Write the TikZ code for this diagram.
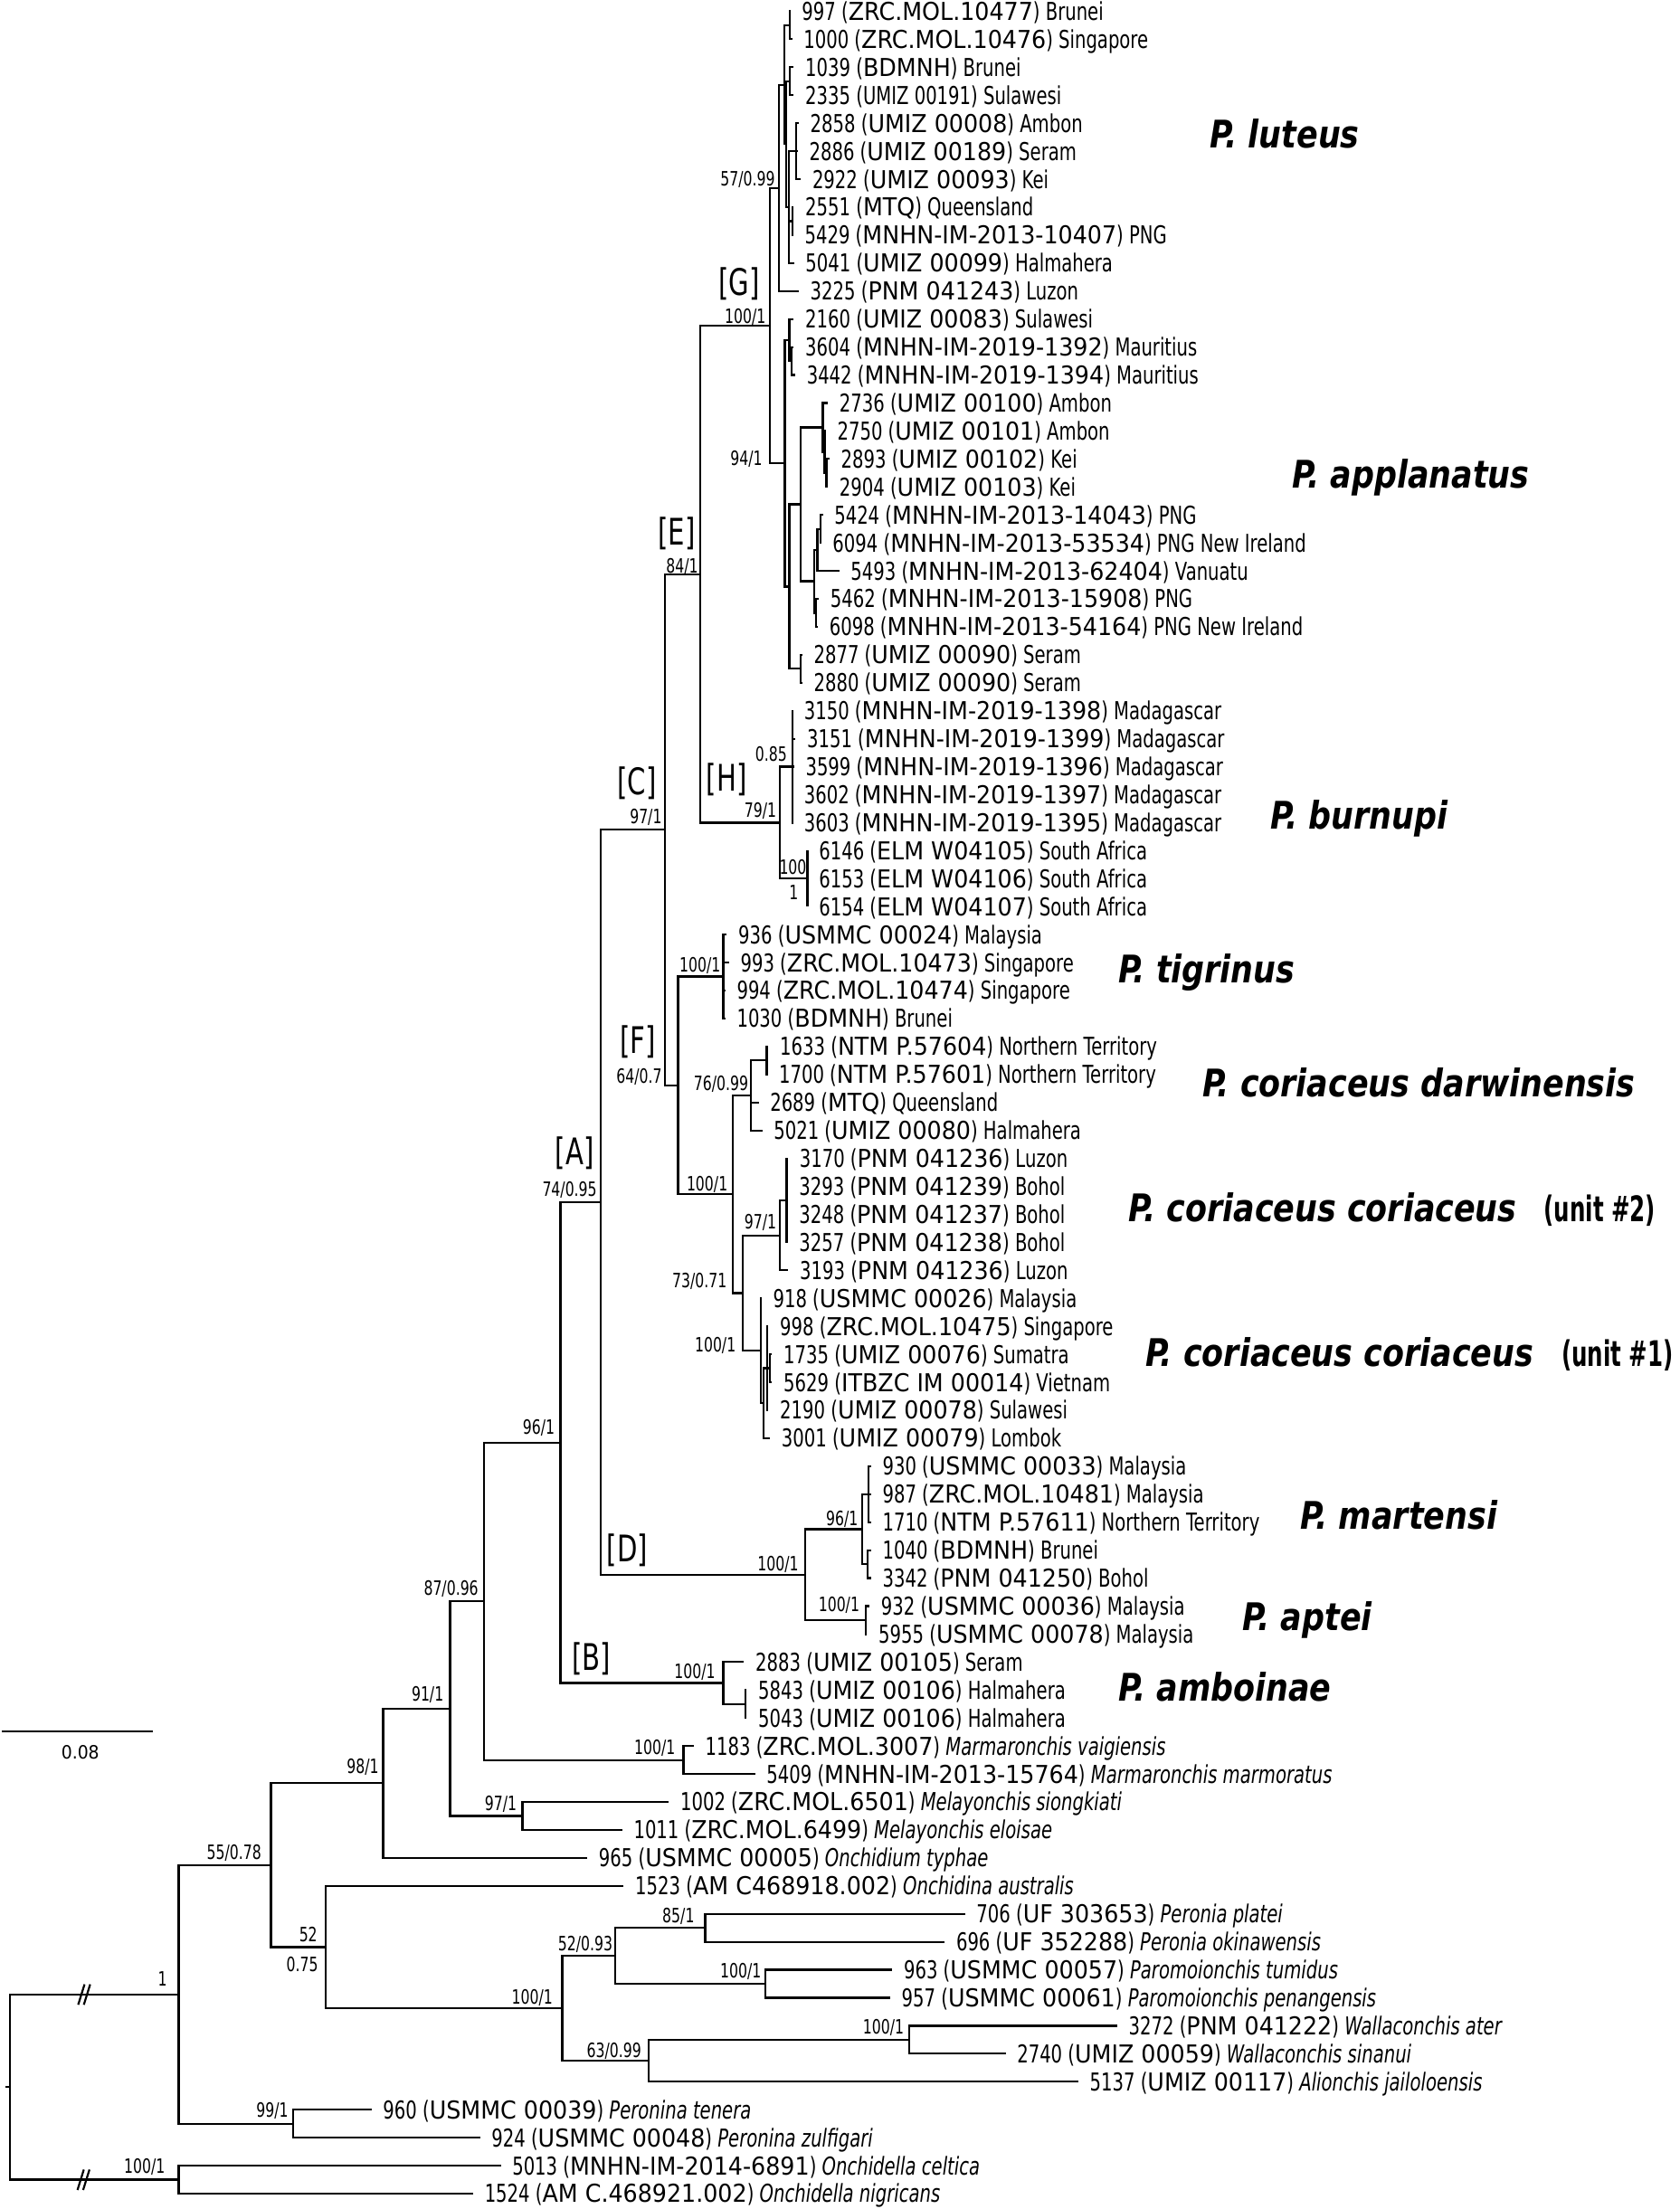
\documentclass[tikz,border=0pt]{standalone}
\usepackage{fontspec}
\newfontfamily\tipf{DejaVu Sans}[FakeStretch=0.72]
\newfontfamily\codef{DejaVu Sans}[FakeStretch=0.93]
\newfontfamily\bigf{DejaVu Sans Bold Oblique}[FakeStretch=0.83]
\newfontfamily\unitf{DejaVu Sans Bold}[FakeStretch=0.63]
\tikzset{
 br/.style={line width=1.4pt},
 tiplab/.style={anchor=base west, inner sep=0pt, xshift=8pt, yshift=-6.4pt, font=\fontsize{17.5}{18}\selectfont},
 sup/.style={anchor=base east, inner sep=0pt, font=\tipf\fontsize{14}{14}\selectfont},
 brk/.style={anchor=base, inner sep=0pt, font=\tipf\fontsize{26}{26}\selectfont},
 spl/.style={anchor=base west, inner sep=0pt, font=\bigf\fontsize{27}{27}\selectfont},
 unitl/.style={anchor=base west, inner sep=0pt, font=\unitf\fontsize{25}{25}\selectfont},
}
\newcommand\tipL[5]{\coordinate (t#1) at (#2,{8+(#1-1)*19.86}); \node[tiplab] (l#1) at (t#1) {\tipf #3 (\codef #4\tipf ) #5};}
\newcommand\tipI[5]{\coordinate (t#1) at (#2,{8+(#1-1)*19.86}); \node[tiplab] (l#1) at (t#1) {\tipf #3 (\codef #4\tipf ) \itshape #5};}
\newcommand\tipC[5]{\coordinate (t#1) at (#2,{8+(#1-1)*19.86}); \node[tiplab] (l#1) at (t#1) {\tipf #3 (#4) #5};}
\begin{document}
\begin{tikzpicture}[x=1pt,y=-1pt]
\path[fill=white] (0,0) rectangle (1192,1568);
\useasboundingbox (0,0) rectangle (1192,1568);
% ---------- tips ----------
\tipL{1}{561}{997}{ZRC.MOL.10477}{Brunei}
\tipL{2}{562.2}{1000}{ZRC.MOL.10476}{Singapore}
\tipL{3}{563.4}{1039}{BDMNH}{Brunei}
\tipC{4}{563.4}{2335}{UMIZ 00191}{Sulawesi}
\tipL{5}{566.9}{2858}{UMIZ 00008}{Ambon}
\tipL{6}{566.2}{2886}{UMIZ 00189}{Seram}
\tipL{7}{568.4}{2922}{UMIZ 00093}{Kei}
\tipL{8}{563.4}{2551}{MTQ}{Queensland}
\tipL{9}{563}{5429}{MNHN-IM-2013-10407}{PNG}
\tipL{10}{563.5}{5041}{UMIZ 00099}{Halmahera}
\tipL{11}{566.9}{3225}{PNM 041243}{Luzon}
\tipL{12}{563.4}{2160}{UMIZ 00083}{Sulawesi}
\tipL{13}{563.4}{3604}{MNHN-IM-2019-1392}{Mauritius}
\tipL{14}{564.4}{3442}{MNHN-IM-2019-1394}{Mauritius}
\tipL{15}{587.6}{2736}{UMIZ 00100}{Ambon}
\tipL{16}{586.1}{2750}{UMIZ 00101}{Ambon}
\tipL{17}{588.7}{2893}{UMIZ 00102}{Kei}
\tipL{18}{587.6}{2904}{UMIZ 00103}{Kei}
\tipL{19}{584}{5424}{MNHN-IM-2013-14043}{PNG}
\tipL{20}{582.8}{6094}{MNHN-IM-2013-53534}{PNG New Ireland}
\tipL{21}{595.6}{5493}{MNHN-IM-2013-62404}{Vanuatu}
\tipL{22}{581.2}{5462}{MNHN-IM-2013-15908}{PNG}
\tipL{23}{580.5}{6098}{MNHN-IM-2013-54164}{PNG New Ireland}
\tipL{24}{569.4}{2877}{UMIZ 00090}{Seram}
\tipL{25}{569.4}{2880}{UMIZ 00090}{Seram}
\tipL{26}{562.5}{3150}{MNHN-IM-2019-1398}{Madagascar}
\tipL{27}{564.6}{3151}{MNHN-IM-2019-1399}{Madagascar}
\tipL{28}{563.6}{3599}{MNHN-IM-2019-1396}{Madagascar}
\tipL{29}{562.5}{3602}{MNHN-IM-2019-1397}{Madagascar}
\tipL{30}{562.5}{3603}{MNHN-IM-2019-1395}{Madagascar}
\tipL{31}{573.1}{6146}{ELM W04105}{South Africa}
\tipL{32}{573.1}{6153}{ELM W04106}{South Africa}
\tipL{33}{573.1}{6154}{ELM W04107}{South Africa}
\tipL{34}{515.9}{936}{USMMC 00024}{Malaysia}
\tipL{35}{517.4}{993}{ZRC.MOL.10473}{Singapore}
\tipL{36}{514.8}{994}{ZRC.MOL.10474}{Singapore}
\tipL{37}{514.8}{1030}{BDMNH}{Brunei}
\tipL{38}{545.4}{1633}{NTM P.57604}{Northern Territory}
\tipL{39}{544.7}{1700}{NTM P.57601}{Northern Territory}
\tipL{40}{538.4}{2689}{MTQ}{Queensland}
\tipL{41}{541}{5021}{UMIZ 00080}{Halmahera}
\tipL{42}{559.3}{3170}{PNM 041236}{Luzon}
\tipL{43}{559}{3293}{PNM 041239}{Bohol}
\tipL{44}{559}{3248}{PNM 041237}{Bohol}
\tipL{45}{559}{3257}{PNM 041238}{Bohol}
\tipL{46}{559.5}{3193}{PNM 041236}{Luzon}
\tipL{47}{540.5}{918}{USMMC 00026}{Malaysia}
\tipL{48}{545.4}{998}{ZRC.MOL.10475}{Singapore}
\tipL{49}{548}{1735}{UMIZ 00076}{Sumatra}
\tipL{50}{548}{5629}{ITBZC IM 00014}{Vietnam}
\tipL{51}{545.4}{2190}{UMIZ 00078}{Sulawesi}
\tipL{52}{546.5}{3001}{UMIZ 00079}{Lombok}
\tipL{53}{618.2}{930}{USMMC 00033}{Malaysia}
\tipL{54}{618.2}{987}{ZRC.MOL.10481}{Malaysia}
\tipL{55}{618.2}{1710}{NTM P.57611}{Northern Territory}
\tipL{56}{618.2}{1040}{BDMNH}{Brunei}
\tipL{57}{618.2}{3342}{PNM 041250}{Bohol}
\tipL{58}{617.1}{932}{USMMC 00036}{Malaysia}
\tipL{59}{615.4}{5955}{USMMC 00078}{Malaysia}
\tipL{60}{528.1}{2883}{UMIZ 00105}{Seram}
\tipL{61}{530}{5843}{UMIZ 00106}{Halmahera}
\tipL{62}{530}{5043}{UMIZ 00106}{Halmahera}
\tipI{63}{492.4}{1183}{ZRC.MOL.3007}{Marmaronchis vaigiensis}
\tipI{64}{535.9}{5409}{MNHN-IM-2013-15764}{Marmaronchis marmoratus}
\tipI{65}{474.7}{1002}{ZRC.MOL.6501}{Melayonchis siongkiati}
\tipI{66}{441.6}{1011}{ZRC.MOL.6499}{Melayonchis eloisae}
\tipI{67}{416.8}{965}{USMMC 00005}{Onchidium typhae}
\tipI{68}{442.7}{1523}{AM C468918.002}{Onchidina australis}
\tipI{69}{684.9}{706}{UF 303653}{Peronia platei}
\tipI{70}{670.5}{696}{UF 352288}{Peronia okinawensis}
\tipI{71}{633.3}{963}{USMMC 00057}{Paromoionchis tumidus}
\tipI{72}{631.8}{957}{USMMC 00061}{Paromoionchis penangensis}
\tipI{73}{792.9}{3272}{PNM 041222}{Wallaconchis ater}
\tipI{74}{713.7}{2740}{UMIZ 00059}{Wallaconchis sinanui}
\tipI{75}{765.3}{5137}{UMIZ 00117}{Alionchis jailoloensis}
\tipI{76}{263.7}{960}{USMMC 00039}{Peronina tenera}
\tipI{77}{340.7}{924}{USMMC 00048}{Peronina zulfigari}
\tipI{78}{355.4}{5013}{MNHN-IM-2014-6891}{Onchidella celtica}
\tipI{79}{335.8}{1524}{AM C.468921.002}{Onchidella nigricans}
% ---------- internal nodes ----------
\coordinate (root) at (7.2,1481.4);
\coordinate (rootstub) at (3.9,1481.4);
\coordinate (N1) at (126.8,1415.7);
\coordinate (Onch) at (126.8,1547.15);
\coordinate (N55) at (192.3,1323.95);
\coordinate (Peri) at (208,1507.43);
\coordinate (N98) at (271.9,1265.8);
\coordinate (N52) at (231,1382.1);
\coordinate (N91) at (319.4,1212.8);
\coordinate (N87) at (343.6,1136.6);
\coordinate (Mel) at (370.8,1288.97);
\coordinate (N96) at (397.8,1023.97);
\coordinate (Marm) at (485.1,1249.25);
\coordinate (A) at (426.4,853.3);
\coordinate (B) at (513.4,1194.6);
\coordinate (B2) at (529.2,1209.53);
\coordinate (C) at (472.0,589.0);
\coordinate (D) at (571.2,1117.7);
\coordinate (E) at (497.1,407.5);
\coordinate (F) at (481.2,770.4);
\coordinate (G) at (546.3,231.1);
\coordinate (H) at (553.4,583.94);
\coordinate (N57) at (553,133.35);
\coordinate (Na) at (556.5,60.1);
\coordinate (P1) at (560.5,17.93);
\coordinate (Na2) at (558,102.3);
\coordinate (P2) at (560.5,57.65);
\coordinate (Nb) at (560,147.02);
\coordinate (T3) at (565,107.3);
\coordinate (Nc) at (562.5,156.95);
\coordinate (N94) at (557,328.9);
\coordinate (Nsul) at (560.2,241.4);
\coordinate (Maur) at (561.9,256.25);
\coordinate (S2) at (560.2,416.4);
\coordinate (S1) at (568.4,358.0);
\coordinate (Q1) at (584,303.4);
\coordinate (Q2) at (585.3,320.8);
\coordinate (Q3) at (586.5,335.69);
\coordinate (R4) at (578,412.6);
\coordinate (R2) at (580.1,390.3);
\coordinate (R1) at (582.3,375.41);
\coordinate (R3) at (579.1,434.99);
\coordinate (Ser) at (568.4,474.71);
\coordinate (Mad) at (562.4,544.22);
\coordinate (SA) at (573.1,623.66);
\coordinate (Tig) at (513.3,693.17);
\coordinate (Ncor) at (520.2,847.7);
\coordinate (N76) at (533,777.6);
\coordinate (Dpair) at (544.2,752.75);
\coordinate (N73) at (527.4,917.85);
\coordinate (N97) at (553.4,876.9);
\coordinate (U2a) at (558.3,852.05);
\coordinate (U1a) at (540,958.8);
\coordinate (U1b) at (542,996.04);
\coordinate (U1c) at (544.4,971.21);
\coordinate (U1d) at (546.5,971.21);
\coordinate (Mart) at (611.9,1085.4);
\coordinate (M1) at (616.6,1060.58);
\coordinate (M2) at (615.5,1110.23);
\coordinate (Apt) at (614.4,1149.95);
\coordinate (N100) at (399,1425.5);
\coordinate (N52b) at (436.7,1388.27);
\coordinate (N85) at (500.5,1368.41);
\coordinate (Par) at (543.3,1408.13);
\coordinate (N63) at (460.4,1462.7);
\coordinate (Wall) at (645.4,1447.85);
% ---------- branches ----------
\draw[br] (rootstub) -- (root);
\foreach \p/\c in {root/N1,root/Onch,N1/N55,N1/Peri,Onch/t78,Onch/t79,Peri/t76,Peri/t77,
  N55/N98,N55/N52,N98/N91,N98/t67,N91/N87,N91/Mel,Mel/t65,Mel/t66,N87/N96,N87/Marm,
  Marm/t63,Marm/t64,N96/A,N96/B,B/t60,B/B2,B2/t61,B2/t62,A/C,A/D,
  D/Mart,D/Apt,Mart/M1,Mart/M2,M1/t53,M1/t54,M1/t55,M2/t56,M2/t57,Apt/t58,Apt/t59,
  C/E,C/F,E/G,E/H,G/N57,G/N94,N57/Na,N57/t11,Na/P1,Na/Na2,P1/t1,P1/t2,Na2/P2,Na2/Nb,
  P2/t3,P2/t4,Nb/T3,Nb/Nc,Nb/t10,T3/t5,T3/t6,T3/t7,Nc/t8,Nc/t9,
  N94/Nsul,N94/S2,Nsul/t12,Nsul/Maur,Maur/t13,Maur/t14,S2/S1,S2/Ser,Ser/t24,Ser/t25,
  S1/Q1,S1/R4,Q1/t15,Q1/Q2,Q2/t16,Q2/Q3,Q3/t17,Q3/t18,R4/R2,R4/R3,R2/R1,R2/t21,
  R1/t19,R1/t20,R3/t22,R3/t23,H/Mad,H/SA,Mad/t26,Mad/t27,Mad/t28,Mad/t29,Mad/t30,
  SA/t31,SA/t32,SA/t33,F/Tig,F/Ncor,Tig/t34,Tig/t35,Tig/t36,Tig/t37,
  Ncor/N76,Ncor/N73,N76/Dpair,N76/t40,N76/t41,Dpair/t38,Dpair/t39,
  N73/N97,N73/U1a,N97/U2a,N97/t46,U2a/t42,U2a/t43,U2a/t44,U2a/t45,
  U1a/t47,U1a/U1b,U1b/U1c,U1b/t52,U1c/t48,U1c/U1d,U1c/t51,U1d/t49,U1d/t50,
  N52/t68,N52/N100,N100/N52b,N100/N63,N52b/N85,N52b/Par,N85/t69,N85/t70,
  Par/t71,Par/t72,N63/Wall,N63/t75,Wall/t73,Wall/t74}
  {\draw[br] (\p) |- (\c);}
% ---------- break marks ----------
\coordinate (k1a) at (55.5,1423); \coordinate (k1b) at (60,1408.5);
\coordinate (k1c) at (59.5,1423); \coordinate (k1d) at (64,1408.5);
\coordinate (k2a) at (55,1554.5); \coordinate (k2b) at (59.5,1540);
\coordinate (k2c) at (59,1554.5); \coordinate (k2d) at (63.5,1540);
\draw[br] (k1a) -- (k1b) (k1c) -- (k1d) (k2a) -- (k2b) (k2c) -- (k2d);
% ---------- scale bar ----------
\coordinate (sb1) at (1.5,1229); \coordinate (sb2) at (108.5,1229);
\draw[br] (sb1) -- (sb2);
\node[anchor=base, inner sep=0pt, font=\codef\fontsize{13}{13}\selectfont] (sbl) at (57,1248.7) {0.08};
% ---------- support values ----------
\node[sup] (s1) at (550.2,132.2) {57/0.99};
\node[sup] (s2) at (543.7,229.5) {100/1};
\node[sup] (s3) at (541.2,330.6) {94/1};
\node[sup] (s4) at (495.6,406.7) {84/1};
\node[sup] (s5) at (469.9,584.7) {97/1};
\node[sup] (s6) at (551.2,580.2) {79/1};
\node[sup] (s7) at (558.7,540.4) {0.85};
\node[sup] (s8) at (572.6,620.7) {100};
\node[sup, anchor=base] (s9) at (563.4,638.3) {1};
\node[sup] (s10) at (511.6,690) {100/1};
\node[sup] (s11) at (469.9,769) {64/0.7};
\node[sup] (s12) at (531.3,774) {76/0.99};
\node[sup] (s13) at (516.6,845.4) {100/1};
\node[sup] (s14) at (551.2,872.2) {97/1};
\node[sup] (s15) at (516,914.3) {73/0.71};
\node[sup] (s16) at (522.4,959.7) {100/1};
\node[sup] (s17) at (423.8,849.1) {74/0.95};
\node[sup] (s18) at (393.9,1018.2) {96/1};
\node[sup] (s19) at (566.9,1115) {100/1};
\node[sup] (s20) at (609.1,1083.1) {96/1};
\node[sup] (s21) at (610.2,1143.7) {100/1};
\node[sup] (s22) at (507.8,1191.4) {100/1};
\node[sup] (s23) at (339.7,1132.5) {87/0.96};
\node[sup] (s24) at (315,1207.7) {91/1};
\node[sup] (s25) at (269,1259) {98/1};
\node[sup] (s26) at (479.5,1245.1) {100/1};
\node[sup] (s27) at (366.9,1285) {97/1};
\node[sup] (s28) at (185.7,1320) {55/0.78};
\node[sup] (s29) at (225.4,1378.4) {52};
\node[sup] (s30) at (226,1399.4) {0.75};
\node[sup, anchor=base] (s31) at (115.3,1409.8) {1};
\node[sup] (s32) at (392.5,1422.6) {100/1};
\node[sup] (s33) at (435,1384.5) {52/0.93};
\node[sup] (s34) at (493,1364.7) {85/1};
\node[sup] (s35) at (455.4,1460.5) {63/0.99};
\node[sup] (s36) at (204.8,1502.6) {99/1};
\node[sup] (s37) at (117.3,1542.3) {100/1};
\node[sup] (s38) at (540.4,1404) {100/1};
\node[sup] (s39) at (641.8,1443.6) {100/1};
% ---------- clade letters ----------
\node[brk] (cG) at (524.5,209.4) {[G]};
\node[brk] (cE) at (480.3,386.6) {[E]};
\node[brk] (cC) at (452.1,564) {[C]};
\node[brk] (cH) at (515.7,561.7) {[H]};
\node[brk] (cF) at (452.7,747.5) {[F]};
\node[brk] (cA) at (407.8,827) {[A]};
\node[brk] (cD) at (445.3,1108.4) {[D]};
\node[brk] (cB) at (419.6,1185.7) {[B]};
% ---------- species names ----------
\node[spl] (sp1) at (858.9,104.9) {P. luteus};
\node[spl] (sp2) at (917.1,346.3) {P. applanatus};
\node[spl] (sp3) at (901.6,588.5) {P. burnupi};
\node[spl] (sp4) at (793.5,697.4) {P. tigrinus};
\node[spl] (sp5) at (853.2,778.4) {P. coriaceus darwinensis};
\node[spl] (sp6) at (800.9,867) {P. coriaceus coriaceus};
\node[unitl] (u2) at (1095.5,867) {(unit \#2)};
\node[spl] (sp7) at (812.8,969.8) {P. coriaceus coriaceus};
\node[unitl] (u1) at (1108.1,969.8) {(unit \#1)};
\node[spl] (sp8) at (923.1,1085.4) {P. martensi};
\node[spl] (sp9) at (882,1157.2) {P. aptei};
\node[spl] (sp10) at (793.8,1207.4) {P. amboinae};
\end{tikzpicture}
\end{document}
